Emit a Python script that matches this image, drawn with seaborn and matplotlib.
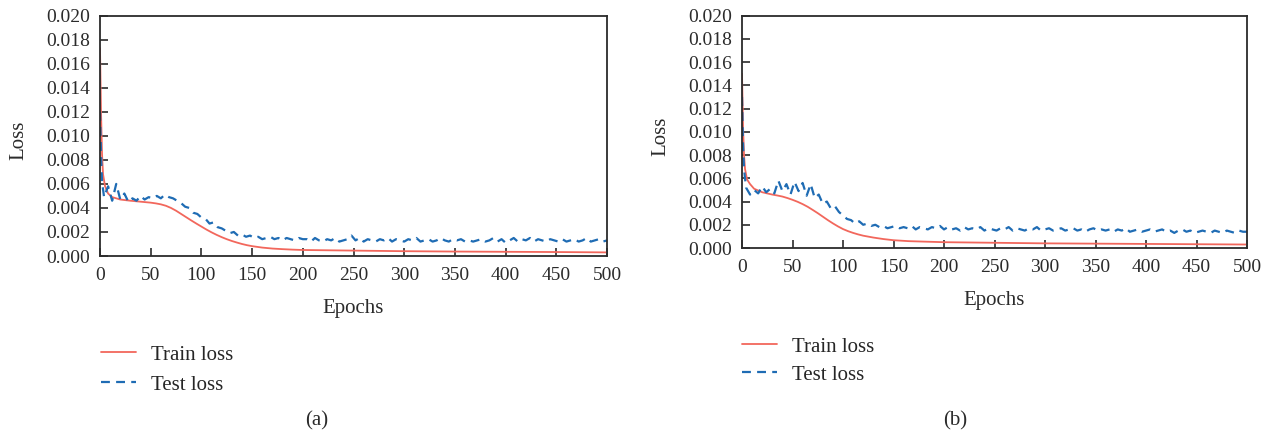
import matplotlib
matplotlib.use("Agg")
import matplotlib.pyplot as plt
import seaborn as sns
import pandas as pd

# ---- data -----------------------------------------------------------------
train_epochs_a = [0, 1, 2, 3, 5, 8, 12, 20, 30, 40, 45, 50, 55, 60, 65, 70, 75,
                  80, 85, 90, 95, 100, 105, 110, 115, 120, 125, 130, 135, 140,
                  145, 150, 160, 170, 180, 190, 200, 250, 300, 350, 400, 450,
                  500]
train_loss_a = [0.0173, 0.0120, 0.0085, 0.0068, 0.0058, 0.0052, 0.0049, 0.0047,
                0.0046, 0.00452, 0.00448, 0.00444, 0.00438, 0.00430, 0.00418,
                0.00400, 0.00377, 0.00350, 0.00323, 0.00296, 0.00270, 0.00245,
                0.00220, 0.00197, 0.00176, 0.00157, 0.00140, 0.00125, 0.00112,
                0.00100, 0.00090, 0.00082, 0.00070, 0.00062, 0.00057, 0.00053,
                0.00050, 0.00045, 0.00040, 0.00037, 0.00035, 0.00033, 0.00030]

train_epochs_b = [0, 1, 2, 3, 5, 8, 12, 20, 30, 35, 40, 45, 50, 55, 60, 65, 70,
                  75, 80, 85, 90, 95, 100, 105, 110, 115, 120, 130, 140, 150,
                  165, 180, 200, 250, 300, 400, 500]
train_loss_b = [0.0150, 0.0105, 0.0080, 0.0068, 0.0059, 0.0055, 0.0051, 0.0048,
                0.0046, 0.00452, 0.00443, 0.00430, 0.00415, 0.00398, 0.00378,
                0.00355, 0.00328, 0.00300, 0.00270, 0.00240, 0.00212, 0.00186,
                0.00163, 0.00145, 0.00130, 0.00117, 0.00106, 0.00090, 0.00077,
                0.00067, 0.00059, 0.00055, 0.00050, 0.00045, 0.00040, 0.00035,
                0.00030]

test_epochs = [0, 1, 2] + list(range(4, 501, 4))

test_loss_a = [
    0.0120, 0.0085, 0.0062,
    0.0049, 0.0058, 0.0046, 0.0060, 0.0047, 0.0052, 0.0045, 0.0048, 0.0046, 0.0050,
    0.0047, 0.0049, 0.0048, 0.0050, 0.0048, 0.0051, 0.0049, 0.0048, 0.0046, 0.0044,
    0.0041, 0.0040, 0.0036, 0.0035, 0.0032, 0.0031, 0.0027, 0.0028, 0.0024, 0.0023,
    0.0021, 0.0019, 0.0020, 0.0017, 0.0018, 0.0016, 0.0017, 0.0015, 0.0016, 0.0014,
    0.0015, 0.0016, 0.0014, 0.0015, 0.0013, 0.0015, 0.0014, 0.0013, 0.0015, 0.0014,
    0.0014, 0.0012, 0.0015, 0.0013, 0.0012, 0.0014, 0.0013, 0.0015, 0.0012, 0.0013,
    0.0014, 0.0017, 0.0013, 0.0015, 0.0012, 0.0014, 0.0013, 0.0012, 0.0014, 0.0013,
    0.0015, 0.0012, 0.0014, 0.0013, 0.0012, 0.0014, 0.0013, 0.0015, 0.0012, 0.0013,
    0.0014, 0.0012, 0.0013, 0.0015, 0.0013, 0.0012, 0.0014, 0.0013, 0.0014, 0.0012,
    0.0013, 0.0012, 0.0013, 0.0014, 0.0012, 0.0013, 0.0015, 0.0012, 0.0014, 0.0011,
    0.0013, 0.0015, 0.0012, 0.0014, 0.0013, 0.0015, 0.0012, 0.0014, 0.0013, 0.0012,
    0.0014, 0.0013, 0.0012, 0.0014, 0.0012, 0.0013, 0.0014, 0.0012, 0.0013, 0.0015,
    0.0012, 0.0013, 0.0014, 0.0012, 0.0013,
]

test_loss_b = [
    0.0130, 0.0090, 0.0068,
    0.0052, 0.0046, 0.0050, 0.0047, 0.0053, 0.0048, 0.0051, 0.0047, 0.0058, 0.0049,
    0.0055, 0.0046, 0.0057, 0.0049, 0.0056, 0.0045, 0.0055, 0.0043, 0.0046, 0.0038,
    0.0040, 0.0034, 0.0036, 0.0031, 0.0028, 0.0025, 0.0024, 0.0021, 0.0023, 0.0020,
    0.0021, 0.0019, 0.0020, 0.0018, 0.0019, 0.0017, 0.0018, 0.0019, 0.0017, 0.0018,
    0.0017, 0.0019, 0.0016, 0.0018, 0.0017, 0.0016, 0.0018, 0.0017, 0.0019, 0.0016,
    0.0018, 0.0016, 0.0017, 0.0015, 0.0018, 0.0016, 0.0017, 0.0016, 0.0018, 0.0015,
    0.0017, 0.0016, 0.0015, 0.0017, 0.0016, 0.0018, 0.0015, 0.0017, 0.0016, 0.0015,
    0.0017, 0.0016, 0.0018, 0.0015, 0.0016, 0.0017, 0.0015, 0.0016, 0.0017, 0.0015,
    0.0016, 0.0017, 0.0015, 0.0016, 0.0014, 0.0016, 0.0017, 0.0015, 0.0016, 0.0015,
    0.0016, 0.0014, 0.0016, 0.0015, 0.0017, 0.0014, 0.0015, 0.0016, 0.0014, 0.0015,
    0.0016, 0.0014, 0.0015, 0.0016, 0.0014, 0.0015, 0.0013, 0.0015, 0.0016, 0.0014,
    0.0015, 0.0013, 0.0014, 0.0015, 0.0014, 0.0013, 0.0015, 0.0014, 0.0013, 0.0015,
    0.0014, 0.0013, 0.0015, 0.0014, 0.0014,
]

x_ticks = list(range(0, 501, 50))
y_ticks = [0.000, 0.002, 0.004, 0.006, 0.008, 0.010, 0.012, 0.014, 0.016,
           0.018, 0.020]
series_names = ["Train loss", "Test loss"]
panel_captions = ["(a)", "(b)"]

# ---- style ----------------------------------------------------------------
sns.set_theme(style="ticks")
plt.rcParams["font.family"] = ["Liberation Serif", "DejaVu Serif"]
plt.rcParams["font.size"] = 14
TRAIN_COLOR = "#F2675C"
TEST_COLOR = "#1F6CB4"
INK = "#2b2b2b"

W, H = 1273, 436
fig = plt.figure(figsize=(W / 100, H / 100), dpi=100)


def px_axes(left, top, right, bottom):
    return fig.add_axes([left / W, 1 - bottom / H, (right - left) / W,
                         (bottom - top) / H])


panels = [
    dict(box=(100, 15.7, 607, 256), train=(train_epochs_a, train_loss_a),
         test=test_loss_a, legend_xy=(101, 345), legend_gap=0.5,
         caption_xy=(317, 421), xlabel_y=-0.18),
    dict(box=(742, 15.7, 1247, 248), train=(train_epochs_b, train_loss_b),
         test=test_loss_b, legend_xy=(742, 337), legend_gap=0.4,
         caption_xy=(955, 421), xlabel_y=-0.186),
]

for p, caption in zip(panels, panel_captions):
    ax = px_axes(*p["box"])
    df_train = pd.DataFrame({"Epochs": p["train"][0], "Loss": p["train"][1]})
    df_test = pd.DataFrame({"Epochs": test_epochs, "Loss": p["test"]})

    sns.lineplot(data=df_train, x="Epochs", y="Loss", ax=ax, color=TRAIN_COLOR,
                 linewidth=1.3, label=series_names[0], estimator=None)
    sns.lineplot(data=df_test, x="Epochs", y="Loss", ax=ax, color=TEST_COLOR,
                 linewidth=1.6, linestyle=(0, (4.0, 2.8)),
                 label=series_names[1], estimator=None)

    ax.set_xlim(0, 500)
    ax.set_ylim(0, 0.020)
    ax.set_xticks(x_ticks)
    ax.set_yticks(y_ticks)
    ax.set_yticklabels([f"{v:.3f}" for v in y_ticks])
    ax.tick_params(axis="both", direction="in", length=6, width=1.2,
                   colors=INK, labelsize=14, labelcolor=INK)
    ax.tick_params(axis="y", pad=7)
    ax.tick_params(axis="x", pad=8)
    for s in ax.spines.values():
        s.set_visible(True)
        s.set_color(INK)
        s.set_linewidth(1.3)

    ax.set_xlabel("Epochs", fontsize=15, color=INK)
    ax.set_ylabel("Loss", fontsize=15, color=INK)
    ax.xaxis.set_label_coords(0.5, p["xlabel_y"])
    ax.yaxis.set_label_coords(-0.142, 0.48)

    lx, ly = p["legend_xy"]
    ax.legend(loc="upper left", bbox_to_anchor=(lx / W, 1 - ly / H),
              bbox_transform=fig.transFigure, frameon=False, fontsize=15,
              handlelength=1.7, handletextpad=0.7,
              labelspacing=p["legend_gap"], borderpad=0, borderaxespad=0)

    cx, cy = p["caption_xy"]
    fig.text(cx / W, 1 - cy / H, caption, ha="center", va="center",
             fontsize=15, color=INK)

fig.savefig("out.png", dpi=100)
